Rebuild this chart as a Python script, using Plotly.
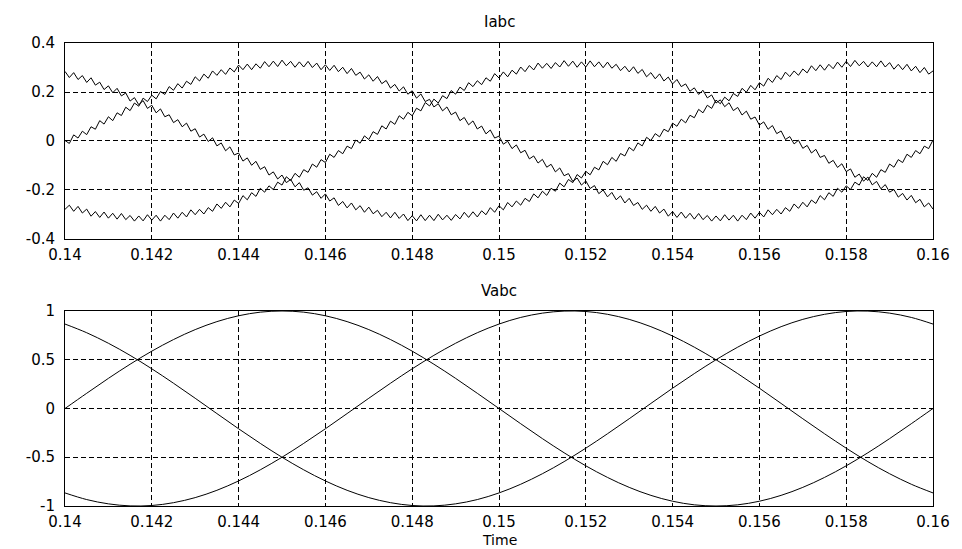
import plotly.graph_objects as go

# ---------------- data ----------------
T_START = 0.14
T_STEP_I = 0.0001   # sampling step of the current traces (s)
T_STEP_V = 0.0005   # sampling step of the voltage traces (s)

ia = [0.002, -0.010, 0.025, 0.012, 0.040, 0.026, 0.058, 0.048, 0.083, 0.069,
      0.099, 0.083, 0.115, 0.104, 0.138, 0.124, 0.155, 0.142, 0.175, 0.161,
      0.187, 0.172, 0.202, 0.190, 0.222, 0.207, 0.234, 0.216, 0.244, 0.231,
      0.262, 0.245, 0.273, 0.256, 0.286, 0.268, 0.291, 0.272, 0.298, 0.282,
      0.310, 0.291, 0.314, 0.291, 0.315, 0.297, 0.324, 0.303, 0.326, 0.304,
      0.330, 0.307, 0.325, 0.301, 0.323, 0.302, 0.325, 0.300, 0.318, 0.291,
      0.311, 0.288, 0.309, 0.283, 0.301, 0.275, 0.296, 0.268, 0.281, 0.253,
      0.270, 0.244, 0.263, 0.234, 0.247, 0.216, 0.231, 0.204, 0.221, 0.191,
      0.205, 0.175, 0.192, 0.161, 0.170, 0.139, 0.152, 0.123, 0.139, 0.107,
      0.118, 0.083, 0.096, 0.066, 0.082, 0.049, 0.061, 0.029, 0.045, 0.012,
      0.020, -0.013, -0.001, -0.031, -0.016, -0.048, -0.038, -0.073, -0.061, -0.090,
      -0.075, -0.107, -0.095, -0.126, -0.110, -0.142, -0.133, -0.165, -0.151, -0.180,
      -0.163, -0.194, -0.182, -0.215, -0.200, -0.228, -0.210, -0.240, -0.224, -0.253,
      -0.234, -0.263, -0.251, -0.279, -0.262, -0.287, -0.267, -0.294, -0.278, -0.307,
      -0.288, -0.312, -0.290, -0.315, -0.295, -0.319, -0.296, -0.321, -0.304, -0.327,
      -0.306, -0.326, -0.301, -0.323, -0.303, -0.327, -0.303, -0.321, -0.294, -0.315,
      -0.291, -0.310, -0.281, -0.301, -0.279, -0.298, -0.272, -0.287, -0.257, -0.275,
      -0.250, -0.269, -0.241, -0.255, -0.223, -0.240, -0.211, -0.226, -0.193, -0.209,
      -0.183, -0.198, -0.168, -0.180, -0.146, -0.161, -0.132, -0.148, -0.117, -0.128,
      -0.094, -0.107, -0.076, -0.088, -0.054, -0.067, -0.039, -0.052, -0.021, -0.031,
      0.004]

ib = [-0.279, -0.262, -0.287, -0.267, -0.294, -0.278, -0.307, -0.288, -0.312, -0.290,
      -0.315, -0.295, -0.319, -0.296, -0.321, -0.304, -0.327, -0.306, -0.326, -0.301,
      -0.323, -0.303, -0.327, -0.303, -0.321, -0.294, -0.315, -0.291, -0.310, -0.281,
      -0.301, -0.279, -0.298, -0.272, -0.287, -0.257, -0.275, -0.250, -0.269, -0.241,
      -0.255, -0.223, -0.240, -0.211, -0.226, -0.193, -0.209, -0.183, -0.198, -0.168,
      -0.180, -0.146, -0.161, -0.132, -0.148, -0.117, -0.128, -0.094, -0.107, -0.076,
      -0.088, -0.054, -0.067, -0.039, -0.052, -0.021, -0.031, 0.004, -0.009, 0.021,
      0.006, 0.038, 0.027, 0.062, 0.049, 0.081, 0.068, 0.103, 0.089, 0.117,
      0.103, 0.134, 0.123, 0.157, 0.143, 0.171, 0.155, 0.185, 0.173, 0.206,
      0.191, 0.220, 0.206, 0.238, 0.222, 0.246, 0.230, 0.258, 0.244, 0.275,
      0.257, 0.282, 0.262, 0.289, 0.273, 0.302, 0.283, 0.308, 0.290, 0.318,
      0.297, 0.317, 0.296, 0.320, 0.302, 0.328, 0.305, 0.326, 0.301, 0.323,
      0.302, 0.327, 0.303, 0.323, 0.299, 0.322, 0.297, 0.313, 0.287, 0.305,
      0.282, 0.303, 0.276, 0.292, 0.262, 0.279, 0.254, 0.274, 0.245, 0.261,
      0.233, 0.251, 0.222, 0.233, 0.203, 0.217, 0.190, 0.207, 0.176, 0.188,
      0.155, 0.168, 0.140, 0.156, 0.124, 0.137, 0.106, 0.122, 0.089, 0.098,
      0.065, 0.078, 0.048, 0.063, 0.030, 0.041, 0.006, 0.018, -0.012, 0.003,
      -0.030, -0.018, -0.049, -0.034, -0.067, -0.059, -0.091, -0.079, -0.108, -0.093,
      -0.125, -0.114, -0.148, -0.135, -0.164, -0.147, -0.179, -0.165, -0.195, -0.178,
      -0.209, -0.198, -0.229, -0.214, -0.241, -0.222, -0.252, -0.238, -0.269, -0.253,
      -0.278]

ic = [0.284, 0.259, 0.279, 0.251, 0.267, 0.239, 0.258, 0.228, 0.240, 0.210,
      0.225, 0.197, 0.215, 0.184, 0.196, 0.163, 0.177, 0.148, 0.165, 0.133,
      0.146, 0.115, 0.131, 0.099, 0.107, 0.075, 0.087, 0.058, 0.073, 0.040,
      0.050, 0.016, 0.028, -0.002, 0.013, -0.020, -0.008, -0.040, -0.024, -0.057,
      -0.049, -0.082, -0.069, -0.099, -0.083, -0.116, -0.105, -0.139, -0.126, -0.155,
      -0.139, -0.170, -0.157, -0.187, -0.170, -0.201, -0.191, -0.221, -0.207, -0.234,
      -0.216, -0.245, -0.232, -0.263, -0.247, -0.273, -0.253, -0.281, -0.264, -0.291,
      -0.270, -0.297, -0.283, -0.309, -0.291, -0.314, -0.291, -0.316, -0.298, -0.325,
      -0.305, -0.326, -0.301, -0.325, -0.303, -0.325, -0.299, -0.322, -0.303, -0.324,
      -0.300, -0.318, -0.291, -0.312, -0.289, -0.310, -0.285, -0.301, -0.272, -0.291,
      -0.264, -0.281, -0.251, -0.269, -0.245, -0.262, -0.234, -0.247, -0.216, -0.232,
      -0.205, -0.222, -0.193, -0.205, -0.172, -0.187, -0.157, -0.170, -0.137, -0.151,
      -0.124, -0.138, -0.107, -0.118, -0.083, -0.097, -0.067, -0.083, -0.051, -0.061,
      -0.026, -0.040, -0.008, -0.020, 0.015, 0.002, 0.030, 0.017, 0.048, 0.038,
      0.073, 0.060, 0.089, 0.074, 0.105, 0.095, 0.129, 0.115, 0.146, 0.133,
      0.167, 0.152, 0.179, 0.164, 0.194, 0.182, 0.215, 0.199, 0.227, 0.209,
      0.238, 0.224, 0.256, 0.239, 0.267, 0.251, 0.281, 0.263, 0.286, 0.268,
      0.294, 0.278, 0.307, 0.287, 0.311, 0.289, 0.313, 0.295, 0.322, 0.301,
      0.325, 0.304, 0.329, 0.307, 0.325, 0.302, 0.323, 0.303, 0.327, 0.302,
      0.320, 0.293, 0.313, 0.291, 0.313, 0.286, 0.305, 0.279, 0.300, 0.273,
      0.286]

va = [0, 0.156, 0.309, 0.454, 0.588, 0.707, 0.809, 0.891, 0.951, 0.988,
      1.0, 0.988, 0.951, 0.891, 0.809, 0.707, 0.588, 0.454, 0.309, 0.156,
      0, -0.156, -0.309, -0.454, -0.588, -0.707, -0.809, -0.891, -0.951, -0.988,
      -1.0, -0.988, -0.951, -0.891, -0.809, -0.707, -0.588, -0.454, -0.309, -0.156,
      0]
vb = [-0.866, -0.934, -0.978, -0.999, -0.995, -0.966, -0.914, -0.839, -0.743, -0.629,
      -0.5, -0.358, -0.208, -0.052, 0.105, 0.259, 0.407, 0.545, 0.669, 0.777,
      0.866, 0.934, 0.978, 0.999, 0.995, 0.966, 0.914, 0.839, 0.743, 0.629,
      0.5, 0.358, 0.208, 0.052, -0.105, -0.259, -0.407, -0.545, -0.669, -0.777,
      -0.866]
vc = [0.866, 0.777, 0.669, 0.545, 0.407, 0.259, 0.105, -0.052, -0.208, -0.358,
      -0.5, -0.629, -0.743, -0.839, -0.914, -0.966, -0.995, -0.999, -0.978, -0.934,
      -0.866, -0.777, -0.669, -0.545, -0.407, -0.259, -0.105, 0.052, 0.208, 0.358,
      0.5, 0.629, 0.743, 0.839, 0.914, 0.966, 0.995, 0.999, 0.978, 0.934,
      0.866]

x_tickvals = [0.14, 0.142, 0.144, 0.146, 0.148, 0.15, 0.152, 0.154, 0.156, 0.158, 0.16]
x_ticktext = ["0.14", "0.142", "0.144", "0.146", "0.148", "0.15", "0.152", "0.154", "0.156", "0.158", "0.16"]
i_tickvals = [-0.4, -0.2, 0, 0.2, 0.4]
i_ticktext = ["-0.4", "-0.2", "0", "0.2", "0.4"]
v_tickvals = [-1, -0.5, 0, 0.5, 1]
v_ticktext = ["-1", "-0.5", "0", "0.5", "1"]

# ---------------- figure ----------------
FONT = "DejaVu Sans"
fig = go.Figure()
for s in (ia, ib, ic):
    fig.add_trace(go.Scatter(y=s, x0=T_START, dx=T_STEP_I, mode="lines",
                             line=dict(color="black", width=1),
                             xaxis="x", yaxis="y", showlegend=False))
for s in (va, vb, vc):
    fig.add_trace(go.Scatter(y=s, x0=T_START, dx=T_STEP_V, mode="lines",
                             line=dict(color="black", width=1, shape="spline"),
                             xaxis="x2", yaxis="y2", showlegend=False))

axis_common = dict(showline=True, mirror=True, linecolor="black", linewidth=1,
                   showgrid=True, gridcolor="black", gridwidth=1, griddash="5px,3px",
                   zeroline=False, ticks="",
                   tickfont=dict(family=FONT, size=15, color="black"))

fig.update_layout(
    width=962, height=549,
    margin=dict(l=65, r=26, t=43, b=43),
    paper_bgcolor="white", plot_bgcolor="white",
    xaxis=dict(domain=[0, 1], anchor="y", range=[0.14, 0.16], ticklabelstandoff=2,
               tickvals=x_tickvals, ticktext=x_ticktext, **axis_common),
    yaxis=dict(domain=[0.5767, 1], anchor="x", range=[-0.4, 0.4],
               tickvals=i_tickvals, ticktext=i_ticktext, ticklabelstandoff=6, **axis_common),
    xaxis2=dict(domain=[0, 1], anchor="y2", range=[0.14, 0.16], ticklabelstandoff=2,
                tickvals=x_tickvals, ticktext=x_ticktext, **axis_common),
    yaxis2=dict(domain=[0, 0.4212], anchor="x2", range=[-1, 1],
                tickvals=v_tickvals, ticktext=v_ticktext, ticklabelstandoff=6, **axis_common),
    annotations=[
        dict(text="Iabc", xref="paper", yref="paper", x=0.5, y=1.045,
             xanchor="center", yanchor="middle", showarrow=False,
             font=dict(family=FONT, size=15, color="black")),
        dict(text="Vabc", xref="paper", yref="paper", x=0.5, y=0.4644,
             xanchor="center", yanchor="middle", showarrow=False,
             font=dict(family=FONT, size=15, color="black")),
        dict(text="Time", xref="paper", yref="paper", x=0.5, y=-0.0745,
             xanchor="center", yanchor="middle", showarrow=False,
             font=dict(family=FONT, size=14, color="black")),
    ],
)

fig.write_html("out.html", config={"displayModeBar": False})

# remove the browser's default 8px page margin so the figure sits at (0, 0)
with open("out.html", "r", encoding="utf-8") as f:
    html = f.read()
html = html.replace("<head>", "<head><style>html,body{margin:0;padding:0;overflow:hidden;}</style>", 1)
with open("out.html", "w", encoding="utf-8") as f:
    f.write(html)
